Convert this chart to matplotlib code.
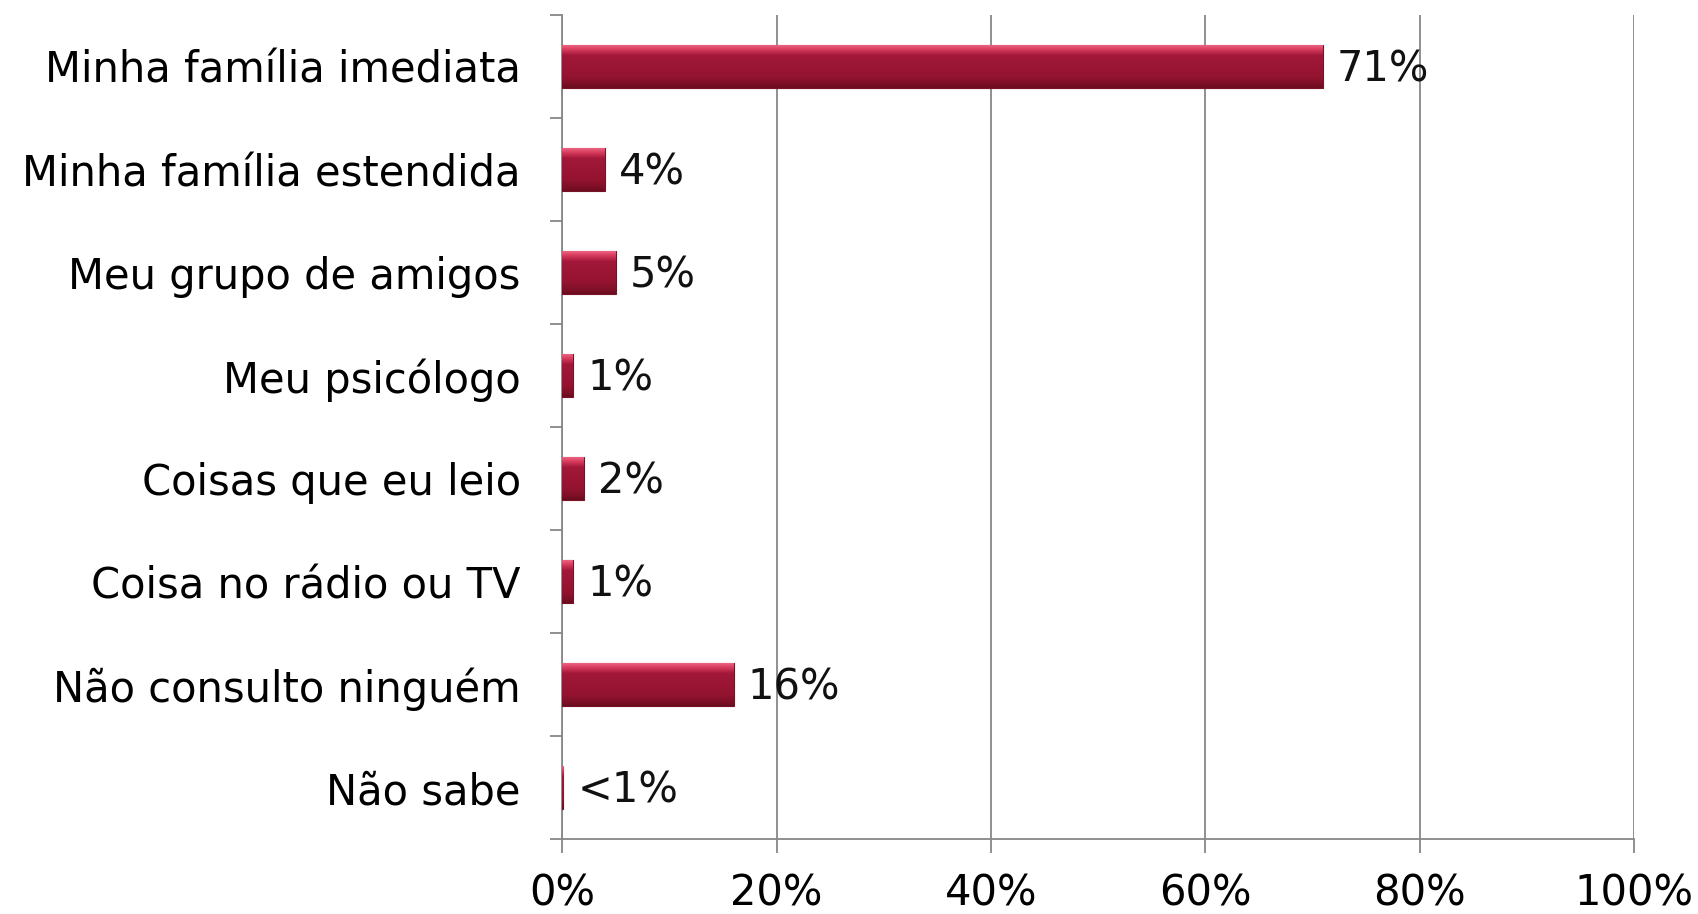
import matplotlib
matplotlib.use('Agg')
import matplotlib.pyplot as plt
import numpy as np
from matplotlib.colors import LinearSegmentedColormap
from matplotlib.ticker import FixedLocator

categories = ['Minha família imediata', 'Minha família estendida', 'Meu grupo de amigos',
              'Meu psicólogo', 'Coisas que eu leio', 'Coisa no rádio ou TV',
              'Não consulto ninguém', 'Não sabe']
values = [71, 4, 5, 1, 2, 1, 16, 0.1]
labels = ['71%', '4%', '5%', '1%', '2%', '1%', '16%', '<1%']
xticks = [0, 20, 40, 60, 80, 100]

plt.rcParams['font.family'] = ['DejaVu Sans']
plt.rcParams['font.size'] = 30

fig = plt.figure(figsize=(16.99, 9.14), dpi=100)
ax = fig.add_axes([0.331, 0.082, 0.6307, 0.9016])

grey = '#878787'
y = np.arange(len(categories))
bars = ax.barh(y, values, height=0.42, color='#9b1530', edgecolor='#7a1226', linewidth=0.8, zorder=3)

# glossy gradient on each bar
cmap = LinearSegmentedColormap.from_list('bar', [
    (0.0, '#f26a88'), (0.12, '#d63a5c'), (0.25, '#a3183a'),
    (0.75, '#93132f'), (0.92, '#7c0f26'), (1.0, '#6a0d20')])
grad = np.linspace(0, 1, 64).reshape(-1, 1)
for bar in bars:
    x0, y0, w, h = bar.get_x(), bar.get_y(), bar.get_width(), bar.get_height()
    im = ax.imshow(grad, extent=(x0, x0 + w, y0 + h, y0), origin='upper',
                   aspect='auto', cmap=cmap, zorder=4, interpolation='bilinear')
    im.set_clip_path(bar)

for yi, v, lab in zip(y, values, labels):
    ax.annotate(lab, (v, yi), xytext=(10, -2), textcoords='offset points',
                va='center', ha='left', color='#111111', zorder=5)

ax.set_xlim(0, 100)
ax.set_ylim(len(categories) - 0.5, -0.5)
ax.set_xticks(xticks)
ax.set_xticklabels([f'{t}%' for t in xticks])
ax.set_yticks(y)
ax.set_yticklabels(categories)
ax.yaxis.set_minor_locator(FixedLocator(np.arange(-0.5, len(categories), 1.0)))

ax.tick_params(axis='y', which='major', length=0, pad=30)
ax.tick_params(axis='y', which='minor', length=9, width=1.3, color=grey)
ax.tick_params(axis='x', which='major', length=10, width=1.3, color=grey, pad=14)

ax.grid(axis='x', color=grey, linewidth=1.3, zorder=0)
ax.set_axisbelow(True)
for s in ['top', 'right']:
    ax.spines[s].set_visible(False)
for s in ['left', 'bottom']:
    ax.spines[s].set_color(grey)
    ax.spines[s].set_linewidth(1.3)

fig.savefig('out.png', dpi=100, facecolor='white')
